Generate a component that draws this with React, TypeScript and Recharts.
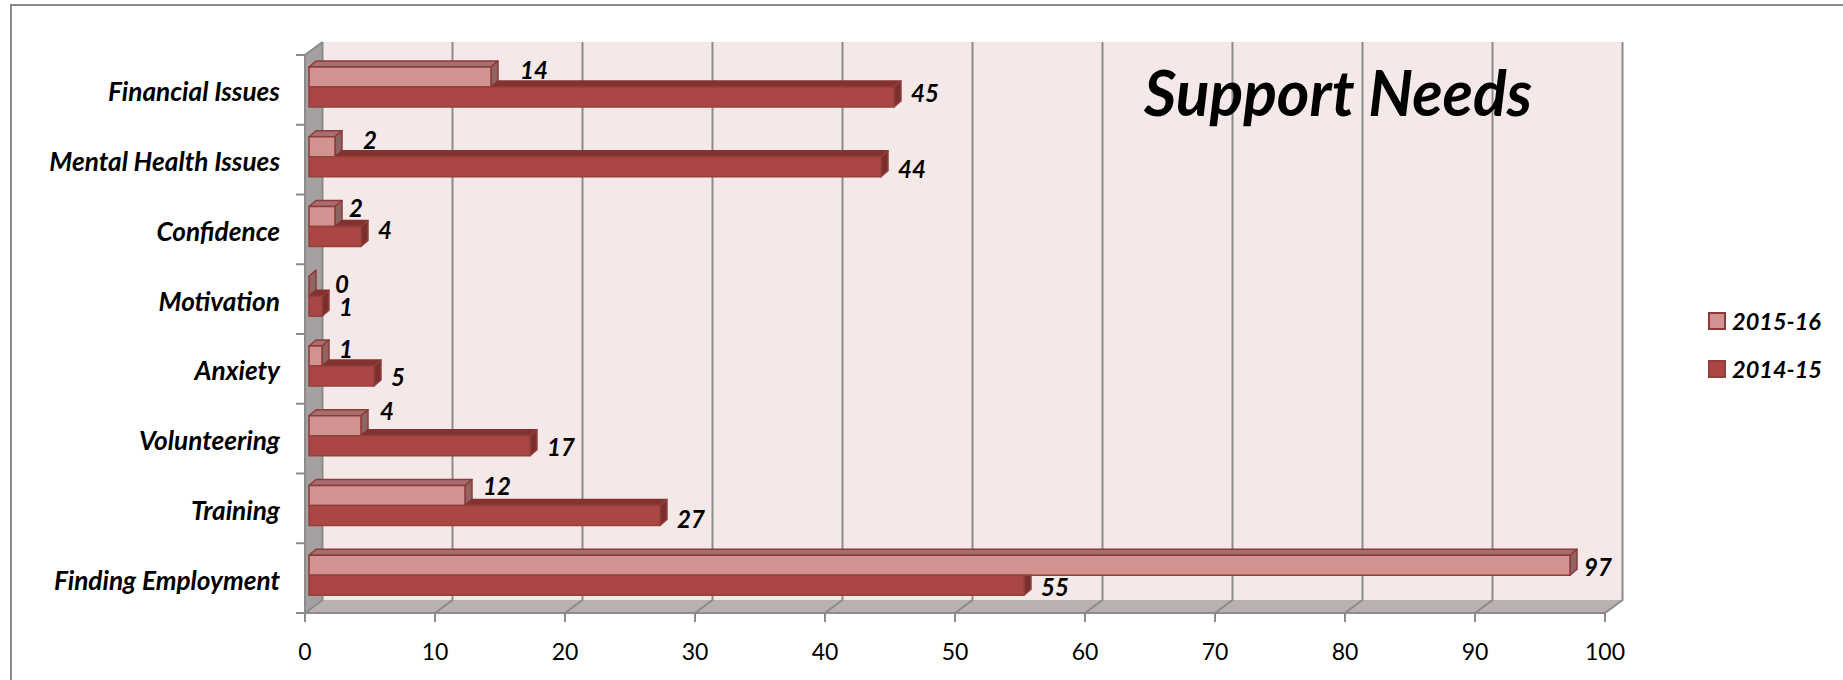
import React from 'react';
import { BarChart, Bar, XAxis, YAxis, CartesianGrid, LabelList, Legend } from 'recharts';

const categories = ['Financial Issues', 'Mental Health Issues', 'Confidence', 'Motivation', 'Anxiety', 'Volunteering', 'Training', 'Finding Employment'];
const values2015 = [14, 2, 2, 0, 1, 4, 12, 97];
const values2014 = [45, 44, 4, 1, 5, 17, 27, 55];
const xTicks = [0, 10, 20, 30, 40, 50, 60, 70, 80, 90, 100];

const rows = categories.map((name, i) => ({ name, y2015: values2015[i], y2014: values2014[i] }));

const FONT = 'Lato, sans-serif';
const WIDTH = 1843;
const HEIGHT = 680;
const LEGEND_WIDTH = 130;
const PLOT = { left: 305, top: 55, right: 1605, bottom: 613 };
const BAND = (PLOT.bottom - PLOT.top) / categories.length;
// offset of the back wall from the front plane
const WALL = { x: 17.5, y: -13 };
// depth of each bar and where it sits inside the box
const DEPTH = { x: 7, y: 6 };
const BAR_SHIFT = { x: 4, y: -3 };

const LINE = '#8b8b8b';
const LIGHT = { front: '#d19292', top: '#a66e6e', side: '#8e6565', stroke: '#8e3a38' };
const DARK = { front: '#aa4643', top: '#843230', side: '#7a2f2d', stroke: '#93403d' };

// hand-placed data labels, one pair per category
const lightLabelNudge = [
  { dx: 12, dy: -5 }, { dx: 11, dy: -4 }, { dx: -3, dy: -6 }, { dx: 9, dy: 0 },
  { dx: 0, dy: -5 }, { dx: 2, dy: -12 }, { dx: 1, dy: -7 }, { dx: -3, dy: 4 },
];
const darkLabelNudge = [
  { dx: 0, dy: -2 }, { dx: 0, dy: 5 }, { dx: 0, dy: -4 }, { dx: 0, dy: 3 },
  { dx: 0, dy: 3 }, { dx: 0, dy: 4 }, { dx: 0, dy: 6 }, { dx: 0, dy: 4 },
];

const pts = (list: number[][]) => list.map((p) => p.join(',')).join(' ');

function LightBar({ x, y, width, height }: any) {
  const left = x + BAR_SHIFT.x;
  const top = y + BAR_SHIFT.y;
  const right = left + width;
  const bottom = top + height;
  return (
    <g stroke={LIGHT.stroke} strokeWidth={1.5} strokeLinejoin="round">
      <polygon fill={LIGHT.top} points={pts([[left, top], [left + DEPTH.x, top - DEPTH.y], [right + DEPTH.x, top - DEPTH.y], [right, top]])} />
      <polygon fill={LIGHT.side} points={pts([[right, top], [right + DEPTH.x, top - DEPTH.y], [right + DEPTH.x, bottom - DEPTH.y], [right, bottom]])} />
      <rect x={left} y={top} width={width} height={height} fill={LIGHT.front} />
    </g>
  );
}

// The lighter bar sits in front, so the top face only shows past its end
function DarkBar({ x, y, width, height, value, payload }: any) {
  const left = x + BAR_SHIFT.x;
  const top = y + BAR_SHIFT.y;
  const right = left + width;
  const bottom = top + height;
  const lightEnd = left + (width / value) * payload.y2015;
  const covered = lightEnd >= right;
  return (
    <g stroke={DARK.stroke} strokeWidth={1.5} strokeLinejoin="round">
      {!covered && (
        <polygon fill={DARK.top} stroke={DARK.top} points={pts([[lightEnd, top], [lightEnd + DEPTH.x, top - DEPTH.y], [right + DEPTH.x, top - DEPTH.y], [right, top]])} />
      )}
      <polygon
        fill={DARK.side}
        points={pts(covered
          ? [[right, top], [right + DEPTH.x, top], [right + DEPTH.x, bottom - DEPTH.y], [right, bottom]]
          : [[right, top], [right + DEPTH.x, top - DEPTH.y], [right + DEPTH.x, bottom - DEPTH.y], [right, bottom]])}
      />
      <rect x={left} y={top} width={width} height={height} fill={DARK.front} />
    </g>
  );
}

function barLabel(nudges: { dx: number; dy: number }[]) {
  return ({ x, y, width, height, value, index }: any) => (
    <text
      x={x + width + BAR_SHIFT.x + DEPTH.x + 10 + nudges[index].dx}
      y={y + height / 2 + BAR_SHIFT.y - 3 + nudges[index].dy}
      dominantBaseline="central"
      fontFamily={FONT}
      fontSize={24}
      fontWeight={700}
      fontStyle="italic"
      fill="#000"
    >
      {value}
    </text>
  );
}

function CategoryTick({ y, index, payload }: any) {
  return (
    <g>
      <line x1={PLOT.left - 9} x2={PLOT.left} y1={y - BAND / 2} y2={y - BAND / 2} stroke={LINE} strokeWidth={2} />
      {index === categories.length - 1 && (
        <line x1={PLOT.left - 9} x2={PLOT.left} y1={y + BAND / 2} y2={y + BAND / 2} stroke={LINE} strokeWidth={2} />
      )}
      <text x={280} y={y + 1.5} textAnchor="end" dominantBaseline="central" fontFamily={FONT} fontSize={26.2} fontWeight={700} fontStyle="italic" fill="#000">
        {payload.value}
      </text>
    </g>
  );
}

// gridline on the back wall plus its diagonal across the floor
function WallGridLine({ x1, key }: any) {
  return (
    <g key={key ?? x1} fill="none" stroke={LINE} strokeWidth={2}>
      <polyline points={pts([[x1 + WALL.x, PLOT.top + WALL.y], [x1 + WALL.x, PLOT.bottom + WALL.y], [x1, PLOT.bottom]])} />
    </g>
  );
}

function Box() {
  const { left, top, right, bottom } = PLOT;
  return (
    <g>
      <rect x={left + WALL.x} y={top + WALL.y} width={right - left} height={bottom - top} fill="#f4e8e8" />
      <polygon fill="#a5a1a1" points={pts([[left, top], [left + WALL.x, top + WALL.y], [left + WALL.x, bottom + WALL.y], [left, bottom]])} />
      <polygon fill="#b9b0b0" points={pts([[left, bottom], [left + WALL.x, bottom + WALL.y], [right + WALL.x, bottom + WALL.y], [right, bottom]])} />
      <polyline fill="none" stroke={LINE} strokeWidth={2} points={pts([[left, bottom], [left, top], [left + WALL.x, top + WALL.y]])} />
    </g>
  );
}

function LegendList({ payload }: any) {
  return (
    <div style={{ fontFamily: FONT, fontSize: 23.5, fontWeight: 700, fontStyle: 'italic', color: '#000' }}>
      {payload.map((entry: any) => {
        const colors = entry.dataKey === 'y2015' ? LIGHT : DARK;
        return (
          <div key={entry.value} style={{ display: 'flex', alignItems: 'center', height: 48 }}>
            <span style={{ width: 14, height: 14, marginRight: 6, background: colors.front, border: `2px solid ${colors.stroke}` }} />
            {entry.value}
          </div>
        );
      })}
    </div>
  );
}

export default function App() {
  return (
    <div style={{ position: 'absolute', left: 0, top: 0, width: WIDTH, height: HEIGHT, overflow: 'hidden', background: '#fff' }}>
      <div style={{ position: 'absolute', left: 10, top: 4, right: 0, bottom: 0, borderLeft: '2px solid #8c8c8c', borderTop: '2px solid #8c8c8c' }} />
      <BarChart
        width={WIDTH}
        height={HEIGHT}
        data={rows}
        layout="vertical"
        barSize={20}
        barGap={0}
        margin={{ top: PLOT.top, right: WIDTH - PLOT.right - LEGEND_WIDTH, bottom: 0, left: 0 }}
        style={{ position: 'absolute', left: 0, top: 0 }}
      >
        <Box />
        <CartesianGrid horizontal={false} vertical={WallGridLine} zIndex={1} />
        <XAxis
          type="number"
          domain={[0, 100]}
          ticks={xTicks}
          height={HEIGHT - PLOT.bottom}
          interval={0}
          tickSize={9}
          tickMargin={22}
          axisLine={{ stroke: LINE, strokeWidth: 2 }}
          tickLine={{ stroke: LINE, strokeWidth: 2 }}
          tick={{ fontFamily: FONT, fontSize: 23, fill: '#000' }}
        />
        <YAxis
          type="category"
          dataKey="name"
          width={PLOT.left}
          interval={0}
          axisLine={false}
          tickLine={false}
          tick={CategoryTick}
        />
        <Bar dataKey="y2015" name="2015-16" fill={LIGHT.front} shape={LightBar} isAnimationActive={false}>
          <LabelList dataKey="y2015" content={barLabel(lightLabelNudge)} />
        </Bar>
        <Bar dataKey="y2014" name="2014-15" fill={DARK.front} shape={DarkBar} isAnimationActive={false}>
          <LabelList dataKey="y2014" content={barLabel(darkLabelNudge)} />
        </Bar>
        <Legend
          layout="vertical"
          align="right"
          verticalAlign="middle"
          itemSorter={null}
          content={LegendList}
          wrapperStyle={{ position: 'absolute', left: 1708, top: 297, width: LEGEND_WIDTH, bottom: 'auto', right: 'auto' }}
        />
      </BarChart>
      <div style={{ position: 'absolute', left: 1038, width: 600, top: 52, lineHeight: '80px', textAlign: 'center', fontFamily: FONT, fontSize: 62.5, fontWeight: 700, fontStyle: 'italic', color: '#000' }}>
        Support Needs
      </div>
    </div>
  );
}
